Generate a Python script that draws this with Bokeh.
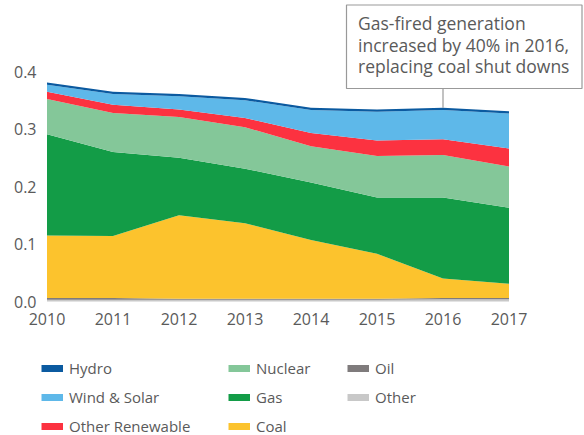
from bokeh.plotting import figure
from bokeh.layouts import column
from bokeh.models import ColumnDataSource, Legend, LegendItem, FixedTicker, Range1d, NumeralTickFormatter
from bokeh.core.properties import value
from bokeh.embed import file_html
from bokeh.resources import INLINE

# ---- data ----
years = [2010, 2011, 2012, 2013, 2014, 2015, 2016, 2017]
other = [0.003, 0.003, 0.003, 0.003, 0.003, 0.003, 0.004, 0.004]
oil = [0.003, 0.003, 0.002, 0.002, 0.002, 0.002, 0.002, 0.002]
coal = [0.109, 0.108, 0.145, 0.131, 0.102, 0.078, 0.034, 0.025]
gas = [0.176, 0.146, 0.100, 0.095, 0.100, 0.098, 0.141, 0.132]
nuclear = [0.061, 0.068, 0.071, 0.072, 0.063, 0.072, 0.074, 0.072]
other_renewable = [0.013, 0.014, 0.013, 0.016, 0.023, 0.027, 0.027, 0.031]
wind_solar = [0.012, 0.019, 0.023, 0.031, 0.040, 0.050, 0.051, 0.061]
hydro = [0.004, 0.004, 0.004, 0.004, 0.004, 0.004, 0.004, 0.004]

names = ["Other", "Oil", "Coal", "Gas", "Nuclear", "Other Renewable", "Wind & Solar", "Hydro"]
keys = ["other", "oil", "coal", "gas", "nuclear", "oren", "wind", "hydro"]
colors = ["#c8c8c8", "#7f7b7c", "#fcc32d", "#139c47", "#84c799", "#fc3240", "#5eb8e9", "#0b5aa0"]
y_ticks = [0.0, 0.1, 0.2, 0.3, 0.4]
note = ["Gas-fired generation", "increased by 40% in 2016,", "replacing coal shut downs"]

source = ColumnDataSource(dict(year=years, other=other, oil=oil, coal=coal, gas=gas,
                               nuclear=nuclear, oren=other_renewable, wind=wind_solar, hydro=hydro))

# ---- layout ----
W, H1, H2 = 584, 340, 95
ML, MB = 41, 35
frame_w, frame_h = W - ML, H1 - MB
px_year = 66.0
px_unit = 575.0
x_start = 2010 - 5.5 / px_year
y_start = -4 / px_unit

FONT = "Open Sans"
TXT = "#5a5a5a"

p = figure(width=W, height=H1, output_backend="svg", toolbar_location=None,
           x_range=Range1d(x_start, x_start + frame_w / px_year),
           y_range=Range1d(y_start, y_start + frame_h / px_unit),
           min_border_left=ML, min_border_right=0, min_border_top=0, min_border_bottom=MB)
p.outline_line_color = None
p.xgrid.grid_line_color = None
p.ygrid.grid_line_color = None

p.varea_stack(stackers=keys, x="year", color=colors, source=source)

for ax in (p.xaxis[0], p.yaxis[0]):
    ax.axis_line_color = None
    ax.major_tick_line_color = None
    ax.minor_tick_line_color = None
    ax.major_tick_in = 0
    ax.major_tick_out = 0
    ax.major_label_text_font = FONT
    ax.major_label_text_font_size = "16px"
    ax.major_label_text_color = TXT
p.xaxis.ticker = FixedTicker(ticks=years)
p.yaxis.ticker = FixedTicker(ticks=y_ticks)
p.yaxis.formatter = NumeralTickFormatter(format="0.0")
p.xaxis.major_label_standoff = 7
p.yaxis.major_label_standoff = 5

# ---- annotation (page pixel -> data helpers) ----
def dx(px):
    return x_start + (px - ML) / px_year

def dy(py):
    return y_start + (frame_h - py) / px_unit

top_2016 = sum(source.data[k][6] for k in keys)
p.segment(x0=[years[6]], x1=[years[6]], y0=[dy(88)], y1=[top_2016], line_color="#999999", line_width=1.2)
p.quad(left=[dx(346)], right=[dx(581.5)], top=[dy(4.5)], bottom=[dy(88)],
       fill_color="white", line_color="#999999", line_width=1.2)
p.text(x=[dx(357.5)] * 3, y=[dy(22.5), dy(44), dy(65.5)], text=note,
       text_font=value(FONT), text_font_size="17.5px", text_color=TXT,
       text_baseline="middle", text_align="left")

# ---- legend figure ----
lf = figure(width=W, height=H2, output_backend="svg", toolbar_location=None,
            x_axis_type=None, y_axis_type=None, x_range=Range1d(0, 1), y_range=Range1d(0, 1),
            min_border=0)
lf.outline_line_color = None
lf.xgrid.grid_line_color = None
lf.ygrid.grid_line_color = None

# off-screen placeholder renderers, used only to carry the legend swatches
dummy = {}
for n, c in zip(names, colors):
    dummy[n] = lf.line(x=[-5, -4], y=[-5, -5], line_color=c, line_width=7, line_cap="butt")

cols = [["Hydro", "Wind & Solar", "Other Renewable"], ["Nuclear", "Gas", "Coal"], ["Oil", "Other"]]
col_x = [0, 187, 306]
for col, xo in zip(cols, col_x):
    items = [LegendItem(label=n, renderers=[dummy[n]]) for n in col]
    rows = len(col)
    lg = Legend(items=items, location=(xo, -1 + (3 - rows) * 29))
    lg.padding = 0
    lg.margin = 0
    lg.spacing = 9
    lg.border_line_color = None
    lg.background_fill_alpha = 0
    lg.glyph_width = 22
    lg.glyph_height = 20
    lg.label_height = 20
    lg.label_standoff = 6
    lg.label_text_font = FONT
    lg.label_text_font_size = "15px"
    lg.label_text_color = TXT
    lf.add_layout(lg)

layout = column(p, lf, spacing=0)
open("out.html", "w").write(file_html(layout, INLINE))
